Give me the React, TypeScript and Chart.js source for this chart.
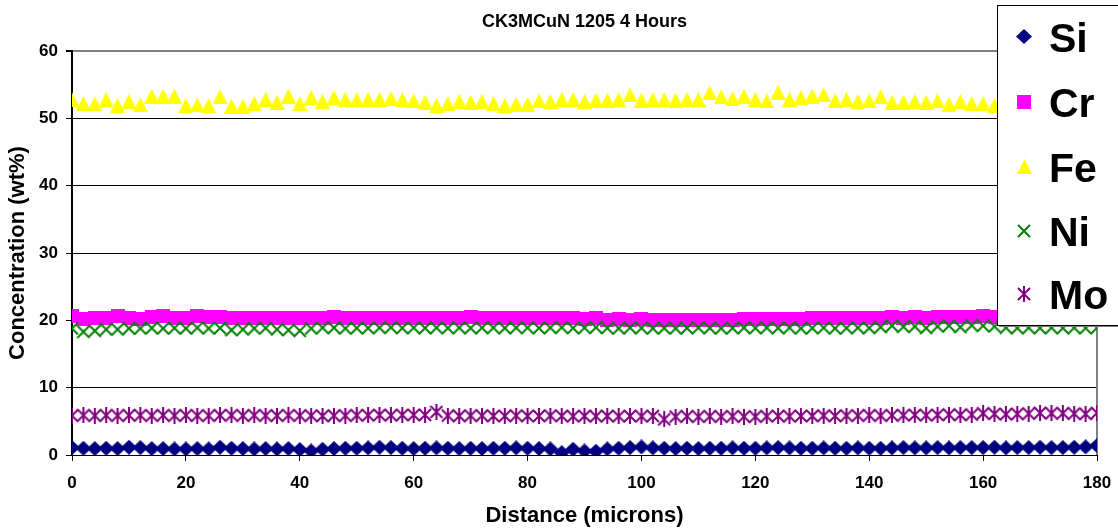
import { useEffect, useRef } from 'react';
import { Chart, registerables } from 'chart.js';

Chart.register(...registerables);

const chartTitle = 'CK3MCuN 1205 4 Hours';
const xTitle = 'Distance (microns)';
const yTitle = 'Concentration (wt%)';
const seriesNames = ['Si', 'Cr', 'Fe', 'Ni', 'Mo'];
const seriesColors = ['#000080', '#FF00FF', '#FFFF00', '#008000', '#800080'];

const xTicks = [0, 20, 40, 60, 80, 100, 120, 140, 160, 180];
const yTicks = [0, 10, 20, 30, 40, 50, 60];

const distance = [
  0, 2, 4, 6, 8, 10, 12, 14, 16, 18, 20, 22, 24, 26, 28, 30, 32, 34, 36, 38,
  40, 42, 44, 46, 48, 50, 52, 54, 56, 58, 60, 62, 64, 66, 68, 70, 72, 74, 76, 78,
  80, 82, 84, 86, 88, 90, 92, 94, 96, 98, 100, 102, 104, 106, 108, 110, 112, 114, 116, 118,
  120, 122, 124, 126, 128, 130, 132, 134, 136, 138, 140, 142, 144, 146, 148, 150, 152, 154, 156, 158,
  160, 162, 164, 166, 168, 170, 172, 174, 176, 178, 180,
];

const si = [
  1.1, 1.0, 0.95, 1.0, 0.95, 1.15, 1.1, 0.95, 0.95, 0.9, 0.9, 0.95, 0.9, 1.15, 1.0, 0.95, 0.9, 0.95, 0.9, 0.95,
  0.8, 0.6, 0.85, 0.95, 1.0, 1.0, 1.05, 1.15, 1.1, 1.0, 0.95, 1.0, 1.05, 1.0, 0.95, 1.0, 0.95, 1.0, 1.0, 1.05,
  1.0, 0.95, 0.9, 0.35, 0.85, 0.6, 0.55, 0.9, 1.0, 1.1, 1.2, 1.05, 1.0, 0.95, 1.0, 0.95, 1.0, 1.0, 1.05, 1.0,
  1.0, 1.05, 1.1, 1.05, 1.0, 1.0, 1.05, 1.0, 1.0, 1.05, 1.0, 1.0, 1.05, 1.1, 1.05, 1.05, 1.1, 1.05, 1.1, 1.1,
  1.1, 1.15, 1.05, 1.1, 1.1, 1.15, 1.1, 1.1, 1.15, 1.2, 1.4,
];

const cr = [
  20.6, 20.25, 20.3, 20.4, 20.6, 20.3, 20.25, 20.5, 20.6, 20.4, 20.4, 20.7, 20.5, 20.45, 20.4, 20.4, 20.3, 20.3, 20.35, 20.3,
  20.3, 20.35, 20.4, 20.5, 20.3, 20.3, 20.4, 20.4, 20.4, 20.35, 20.3, 20.3, 20.35, 20.4, 20.4, 20.45, 20.4, 20.4, 20.35, 20.4,
  20.35, 20.4, 20.3, 20.35, 20.3, 20.25, 20.3, 20.1, 20.15, 20.1, 20.15, 20.1, 20.0, 20.05, 20.0, 20.0, 20.05, 20.0, 20.1, 20.15,
  20.2, 20.2, 20.25, 20.2, 20.25, 20.3, 20.3, 20.3, 20.35, 20.3, 20.35, 20.4, 20.45, 20.4, 20.45, 20.4, 20.5, 20.45, 20.5, 20.55,
  20.6, 20.55, 20.5, 20.5, 20.45, 20.5, 20.45, 20.5, 20.4, 20.45, 20.4,
];

const fe = [
  52.8, 52.2, 52.2, 52.8, 51.9, 52.5, 52.0, 53.3, 53.3, 53.3, 51.9, 52.0, 51.9, 53.2, 51.8, 51.8, 52.2, 52.8, 52.4, 53.3,
  52.2, 53.1, 52.5, 53.1, 52.8, 52.8, 52.8, 52.8, 53.0, 52.8, 52.6, 52.4, 51.9, 52.2, 52.5, 52.4, 52.5, 52.2, 51.9, 52.1,
  52.1, 52.6, 52.5, 52.8, 52.8, 52.5, 52.7, 52.7, 52.8, 53.5, 52.7, 52.8, 52.8, 52.7, 52.8, 52.8, 53.8, 53.2, 52.9, 53.3,
  52.8, 52.6, 53.9, 52.8, 53.1, 53.3, 53.5, 52.6, 52.8, 52.5, 52.6, 53.2, 52.4, 52.4, 52.5, 52.4, 52.6, 52.1, 52.5, 52.2,
  52.2, 51.9, 52.3, 52.6, 52.2, 52.5, 52.4, 52.7, 52.3, 52.5, 52.4,
];

const ni = [
  18.8, 18.3, 18.45, 18.65, 18.65, 18.8, 18.8, 18.85, 18.8, 18.85, 18.8, 18.9, 18.8, 18.85, 18.55, 18.65, 18.8, 18.85, 18.65, 18.55,
  18.45, 18.8, 18.9, 18.9, 18.8, 18.85, 18.85, 18.9, 18.95, 18.85, 18.9, 18.85, 18.9, 18.85, 18.9, 18.85, 18.9, 18.9, 18.85, 18.9,
  18.9, 18.85, 18.9, 18.95, 18.85, 18.9, 18.95, 18.85, 18.8, 18.9, 18.85, 18.8, 18.85, 18.8, 18.85, 18.9, 18.85, 18.8, 18.85, 18.9,
  18.85, 18.9, 18.85, 18.9, 18.8, 18.85, 18.9, 18.8, 18.85, 18.9, 18.85, 19.0, 19.2, 19.05, 19.1, 18.85, 19.1, 19.2, 19.0, 19.25,
  19.2, 19.1, 18.9, 18.85, 18.9, 18.85, 18.9, 18.85, 18.9, 18.85, 18.9,
];

const mo = [
  5.85, 5.9, 5.85, 5.9, 5.85, 5.9, 5.9, 5.85, 5.9, 5.85, 5.9, 5.85, 5.85, 5.9, 5.9, 5.85, 5.9, 5.85, 5.85, 5.9,
  5.85, 5.85, 5.8, 5.85, 5.85, 5.9, 5.9, 5.95, 5.9, 5.95, 5.95, 5.95, 6.4, 5.85, 5.8, 5.85, 5.85, 5.8, 5.8, 5.85,
  5.8, 5.8, 5.85, 5.8, 5.75, 5.8, 5.75, 5.8, 5.75, 5.8, 5.75, 5.8, 5.3, 5.7, 5.75, 5.7, 5.75, 5.7, 5.75, 5.7,
  5.7, 5.75, 5.8, 5.75, 5.8, 5.8, 5.85, 5.8, 5.85, 5.85, 5.9, 5.85, 5.9, 5.9, 5.95, 5.9, 5.95, 6.0, 5.95, 6.0,
  6.2, 6.1, 6.05, 6.1, 6.15, 6.25, 6.2, 6.2, 6.15, 6.1, 6.25,
];

const seriesValues = [si, cr, fe, ni, mo];

const FONT = "'Liberation Sans', Arial, Helvetica, sans-serif";

function makeMarker(w: number, h: number, draw: (g: CanvasRenderingContext2D) => void) {
  const c = document.createElement('canvas');
  c.width = w;
  c.height = h;
  const g = c.getContext('2d') as CanvasRenderingContext2D;
  draw(g);
  return c;
}

function buildMarkers() {
  const diamond = makeMarker(16, 15, (g) => {
    g.fillStyle = seriesColors[0];
    g.beginPath();
    g.moveTo(8, 0);
    g.lineTo(16, 7.5);
    g.lineTo(8, 15);
    g.lineTo(0, 7.5);
    g.closePath();
    g.fill();
  });
  const square = makeMarker(14, 14, (g) => {
    g.fillStyle = seriesColors[1];
    g.fillRect(0, 0, 14, 14);
  });
  const triangle = makeMarker(15, 15, (g) => {
    g.fillStyle = seriesColors[2];
    g.beginPath();
    g.moveTo(7.5, 0);
    g.lineTo(15, 15);
    g.lineTo(0, 15);
    g.closePath();
    g.fill();
  });
  const cross = makeMarker(14, 14, (g) => {
    g.strokeStyle = seriesColors[3];
    g.lineWidth = 2;
    g.beginPath();
    g.moveTo(1, 1);
    g.lineTo(13, 13);
    g.moveTo(13, 1);
    g.lineTo(1, 13);
    g.stroke();
  });
  const star = makeMarker(14, 16, (g) => {
    g.strokeStyle = seriesColors[4];
    g.lineWidth = 2;
    g.beginPath();
    g.moveTo(1, 2);
    g.lineTo(13, 14);
    g.moveTo(13, 2);
    g.lineTo(1, 14);
    g.moveTo(7, 0);
    g.lineTo(7, 16);
    g.stroke();
  });
  return [diamond, square, triangle, cross, star];
}

export default function App() {
  const canvasRef = useRef<HTMLCanvasElement | null>(null);

  useEffect(() => {
    const canvas = canvasRef.current;
    if (!canvas) return;
    const markers = buildMarkers();

    const frame = {
      id: 'frameAndLegend',
      beforeDatasetsDraw(chart: any) {
        const { ctx, chartArea } = chart;
        ctx.save();
        ctx.strokeStyle = '#808080';
        ctx.lineWidth = 2;
        ctx.beginPath();
        ctx.moveTo(chartArea.right, chartArea.top);
        ctx.lineTo(chartArea.right, chartArea.bottom);
        ctx.stroke();
        ctx.restore();
      },
      afterDraw(chart: any) {
        const { ctx, chartArea } = chart;
        ctx.save();
        ctx.font = `bold 18px ${FONT}`;
        ctx.fillStyle = '#000000';
        ctx.textAlign = 'center';
        ctx.textBaseline = 'middle';
        ctx.fillText(chartTitle, (chartArea.left + chartArea.right) / 2, 22);

        const bx = 997;
        const by = 5;
        const bw = 140;
        const bh = 320;
        ctx.fillStyle = '#808080';
        ctx.fillRect(bx + 2, by + bh, bw, 2);
        ctx.fillStyle = '#ffffff';
        ctx.fillRect(bx, by, bw, bh);
        ctx.strokeStyle = '#000000';
        ctx.lineWidth = 1;
        ctx.strokeRect(bx + 0.5, by + 0.5, bw, bh);
        ctx.font = `bold 41px ${FONT}`;
        ctx.fillStyle = '#000000';
        ctx.textBaseline = 'alphabetic';
        ctx.textAlign = 'left';
        const baselines = [51.7, 116.5, 181.5, 245.5, 308.5];
        seriesNames.forEach((name, i) => {
          const m = markers[i];
          const cy = baselines[i] - 15;
          ctx.drawImage(m, Math.round(1024 - m.width / 2), Math.round(cy - m.height / 2));
          ctx.fillText(name, 1049, baselines[i]);
        });
        ctx.restore();
      },
    };

    const datasets = seriesNames.map((name, i) => ({
      label: name,
      data: distance.map((x, j) => ({ x, y: seriesValues[i][j] })),
      showLine: false,
      pointStyle: markers[i],
      pointRadius: 8,
      pointHoverRadius: 8,
      borderColor: seriesColors[i],
      backgroundColor: seriesColors[i],
      order: 5 - i,
    }));

    const chart = new Chart(canvas, {
      type: 'scatter',
      data: { datasets: datasets as any },
      plugins: [frame],
      options: {
        responsive: false,
        animation: false,
        layout: { padding: { top: 51, left: 0, right: 21, bottom: 0 } },
        plugins: {
          legend: { display: false },
          tooltip: { enabled: false },
          title: { display: false },
        },
        scales: {
          x: {
            type: 'linear',
            min: 0,
            max: 180,
            afterFit: (s: any) => {
              s.height = 76;
              s.paddingLeft = 0;
              s.paddingRight = 0;
            },
            afterBuildTicks: (s: any) => { s.ticks = xTicks.map((v) => ({ value: v })); },
            grid: { drawOnChartArea: false, drawTicks: true, tickLength: 6, tickColor: '#000', color: '#000' },
            border: { display: true, color: '#000', width: 1 },
            ticks: { color: '#000', padding: 12, font: { family: FONT, size: 17, weight: 'bold' }, maxRotation: 0 },
            title: {
              display: true,
              text: xTitle,
              color: '#000',
              font: { family: FONT, size: 22, weight: 'bold' },
              padding: { top: 0, bottom: 2 },
            },
          },
          y: {
            type: 'linear',
            min: 0,
            max: 60,
            afterFit: (s: any) => {
              s.width = 72;
              s.paddingTop = 0;
              s.paddingBottom = 0;
            },
            afterBuildTicks: (s: any) => { s.ticks = yTicks.map((v) => ({ value: v })); },
            grid: {
              drawTicks: true,
              tickLength: 6,
              tickColor: '#000',
              color: (c: any) => (c.tick && c.tick.value === 60 ? '#808080' : '#000'),
              lineWidth: (c: any) => (c.tick && c.tick.value === 60 ? 2 : 1),
            },
            border: { display: true, color: '#000', width: 2 },
            ticks: { color: '#000', padding: 8, font: { family: FONT, size: 17, weight: 'bold' } },
            title: {
              display: true,
              text: yTitle,
              color: '#000',
              font: { family: FONT, size: 22, weight: 'bold' },
              padding: { top: 5, bottom: 0 },
            },
          },
        },
      } as any,
    });

    return () => {
      chart.destroy();
    };
  }, []);

  return (
    <div style={{ position: 'fixed', left: 0, top: 0, width: 1118, height: 531, background: '#fff' }}>
      <canvas ref={canvasRef} width={1118} height={531} style={{ display: 'block' }} />
    </div>
  );
}
